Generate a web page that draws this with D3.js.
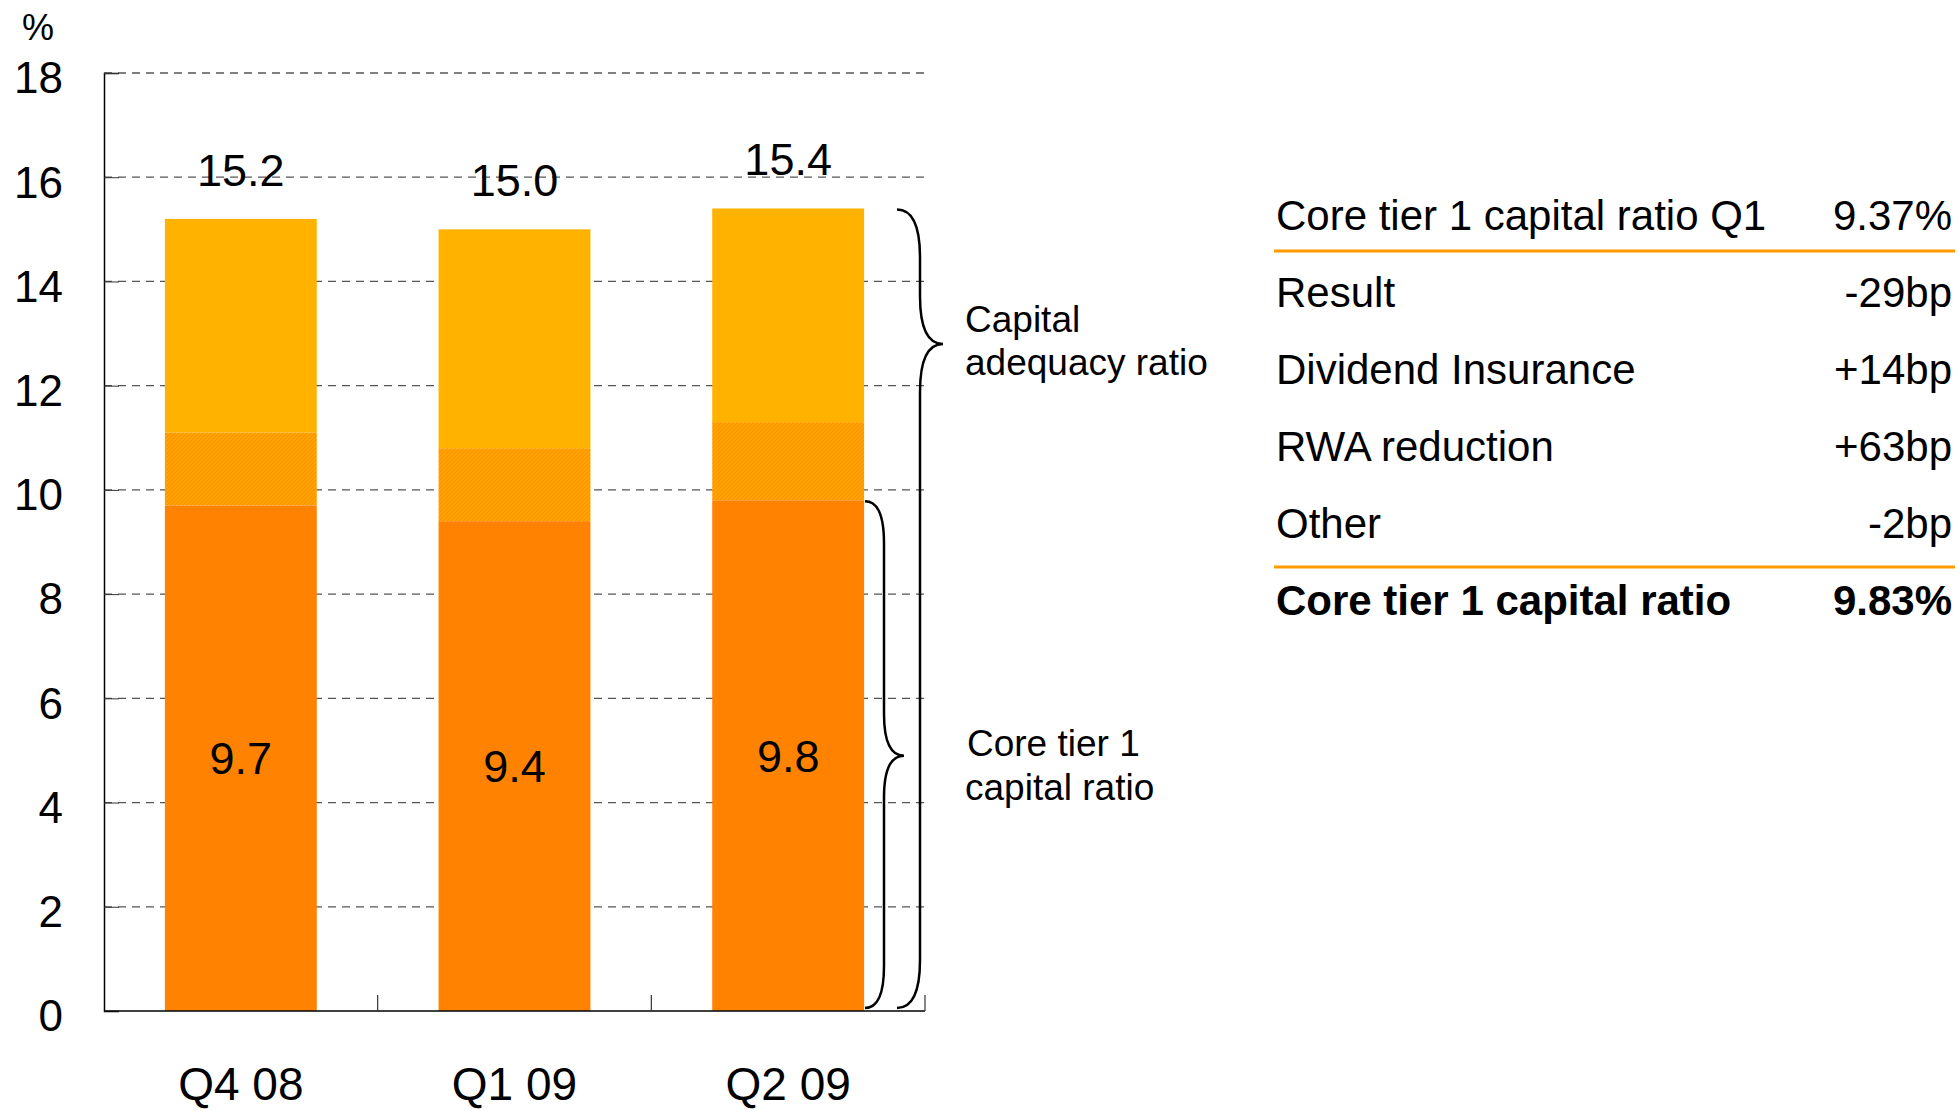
<!DOCTYPE html>
<html>
<head>
<meta charset="utf-8">
<script src="https://cdn.jsdelivr.net/npm/d3@7"></script>
<style>
  body { margin: 0; background: #fff; }
  text { font-family: "Liberation Sans", Arial, sans-serif; fill: #000; }
</style>
</head>
<body>
<div id="chart"></div>
<script>
// data
const quarters = ['Q4 08', 'Q1 09', 'Q2 09'];
const coreTier1 = [9.7, 9.4, 9.8];          // solid orange part
const tier1Total = [11.1, 10.8, 11.3];      // top of hatched part
const capitalAdequacy = [15.2, 15.0, 15.4]; // full bar
const yTicks = [0, 2, 4, 6, 8, 10, 12, 14, 16, 18];

const tableLabels = ['Core tier 1 capital ratio Q1', 'Result', 'Dividend Insurance', 'RWA reduction', 'Other', 'Core tier 1 capital ratio'];
const tableValues = ['9.37%', '-29bp', '+14bp', '+63bp', '-2bp', '9.83%'];

const W = 1960, H = 1111;
const svg = d3.select('#chart').append('svg').attr('width', W).attr('height', H);

const colTop = '#FFB300', colCore = '#FF8300', colLine = '#FF9A00';

// hatch for the middle segment
const defs = svg.append('defs');
const pat = defs.append('pattern').attr('id', 'hatch').attr('patternUnits', 'userSpaceOnUse')
   .attr('width', 4).attr('height', 4);
pat.append('rect').attr('width', 4).attr('height', 4).attr('fill', '#FFA800');
pat.append('path').attr('d', 'M-1,1 l2,-2 M0,4 l4,-4 M3,5 l2,-2')
   .attr('stroke', '#FF8E00').attr('stroke-width', 1.2);

// scales
const x = d3.scaleBand().domain(quarters).range([104, 925]).paddingInner(0.445).paddingOuter(0.2225);
const y = d3.scaleLinear().domain([0, 18]).range([1011, 73]);

// gridlines
svg.append('g').selectAll('line').data(yTicks.filter(d => d > 0)).join('line')
   .attr('x1', 104).attr('x2', 925)
   .attr('y1', d => y(d)).attr('y2', d => y(d))
   .attr('stroke', '#555').attr('stroke-width', 1.3).attr('stroke-dasharray', '8 6');

// bars
const rows = quarters.map((q, i) => ({ q, core: coreTier1[i], t1: tier1Total[i], cap: capitalAdequacy[i] }));
const bars = svg.append('g');
bars.selectAll('.top').data(rows).join('rect')
   .attr('x', d => x(d.q)).attr('width', x.bandwidth())
   .attr('y', d => y(d.cap)).attr('height', d => y(d.t1) - y(d.cap))
   .attr('fill', colTop);
bars.selectAll('.mid').data(rows).join('rect')
   .attr('x', d => x(d.q)).attr('width', x.bandwidth())
   .attr('y', d => y(d.t1)).attr('height', d => y(d.core) - y(d.t1))
   .attr('fill', 'url(#hatch)');
bars.selectAll('.core').data(rows).join('rect')
   .attr('x', d => x(d.q)).attr('width', x.bandwidth())
   .attr('y', d => y(d.core)).attr('height', d => y(0) - y(d.core))
   .attr('fill', colCore);

// value labels
svg.append('g').selectAll('text').data(rows).join('text')
   .attr('x', d => x(d.q) + x.bandwidth() / 2).attr('y', d => y(d.cap) - 33)
   .attr('text-anchor', 'middle').style('font-size', '45px')
   .text(d => d.cap.toFixed(1));
svg.append('g').selectAll('text').data(rows).join('text')
   .attr('x', d => x(d.q) + x.bandwidth() / 2).attr('y', d => (y(d.core) + y(0)) / 2)
   .attr('dy', '0.36em')
   .attr('text-anchor', 'middle').style('font-size', '45px')
   .text(d => d.core.toFixed(1));

// y axis
const yAxis = svg.append('g').attr('transform', 'translate(104,0)')
   .call(d3.axisLeft(y).tickValues(yTicks).tickSize(-15).tickPadding(41));
yAxis.select('.domain').attr('stroke', '#000').attr('stroke-width', 1.5);
yAxis.selectAll('.tick line').attr('stroke', '#333');
yAxis.selectAll('.tick text').style('font-size', '44px').attr('dy', '0.45em')
   .style('font-family', '"Liberation Sans", Arial, sans-serif').attr('fill', '#000');

svg.append('text').attr('x', 38).attr('y', 40).attr('text-anchor', 'middle')
   .style('font-size', '36px').text('%');

// x axis with boundary ticks
svg.append('line').attr('x1', 104).attr('x2', 925).attr('y1', y(0)).attr('y2', y(0))
   .attr('stroke', '#000').attr('stroke-width', 1.5);
const bounds = quarters.slice(1).map(q => x(q) - x.step() * x.paddingInner() / 2).concat([925]);
svg.append('g').selectAll('line').data(bounds).join('line')
   .attr('x1', d => d).attr('x2', d => d).attr('y1', y(0)).attr('y2', y(0) - 16)
   .attr('stroke', '#333').attr('stroke-width', 1.2);
svg.append('g').selectAll('text').data(quarters).join('text')
   .attr('x', d => x(d) + x.bandwidth() / 2).attr('y', 1100)
   .attr('text-anchor', 'middle').style('font-size', '46px')
   .text(d => d);

// braces
function brace(xEnd, xSpine, xTip, yTop, yTip, yBot, r) {
   return `M${xEnd},${yTop} Q${xSpine},${yTop} ${xSpine},${yTop + r}` +
      ` L${xSpine},${yTip - r} Q${xSpine},${yTip} ${xTip},${yTip}` +
      ` Q${xSpine},${yTip} ${xSpine},${yTip + r}` +
      ` L${xSpine},${yBot - r} Q${xSpine},${yBot} ${xEnd},${yBot}`;
}
const braceG = svg.append('g').attr('fill', 'none').attr('stroke', '#000').attr('stroke-width', 2.5);
braceG.append('path').attr('d', brace(897, 920, 943, y(capitalAdequacy[2]) + 1, y(12.8), y(0) - 3, 48));
braceG.append('path').attr('d', brace(865, 884, 904, y(coreTier1[2]) + 1, y(coreTier1[2] / 2), y(0) - 3, 42));

const braceText = svg.append('g').style('font-size', '37px');
braceText.append('text').attr('x', 965).attr('y', 332).text('Capital');
braceText.append('text').attr('x', 965).attr('y', 375).text('adequacy ratio');
braceText.append('text').attr('x', 967).attr('y', 756).text('Core tier 1');
braceText.append('text').attr('x', 965).attr('y', 800).text('capital ratio');

// table on the right
const tableY = d3.scalePoint().domain(d3.range(tableLabels.length)).range([230, 615]);
const table = svg.append('g').style('font-size', '42px');
table.selectAll('.lab').data(tableLabels).join('text')
   .attr('x', 1276).attr('y', (d, i) => tableY(i))
   .style('font-weight', (d, i) => i === tableLabels.length - 1 ? 'bold' : 'normal')
   .text(d => d);
table.selectAll('.val').data(tableValues).join('text')
   .attr('x', 1952).attr('y', (d, i) => tableY(i)).attr('text-anchor', 'end')
   .style('font-weight', (d, i) => i === tableValues.length - 1 ? 'bold' : 'normal')
   .text(d => d);
table.selectAll('line').data([251, 567]).join('line')
   .attr('x1', 1274).attr('x2', 1955).attr('y1', d => d).attr('y2', d => d)
   .attr('stroke', colLine).attr('stroke-width', 3);
</script>
</body>
</html>
